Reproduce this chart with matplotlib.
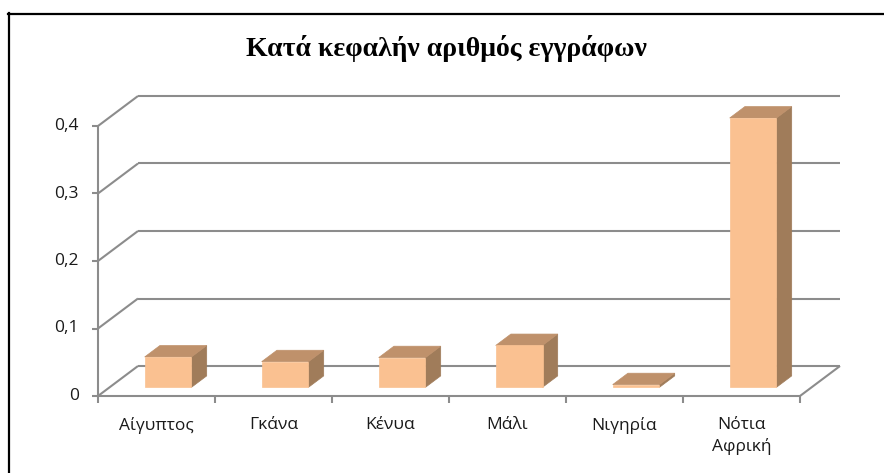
import matplotlib
matplotlib.use("Agg")
import matplotlib.pyplot as plt
from matplotlib.patches import Polygon
from matplotlib.lines import Line2D

# data
countries = ["Αίγυπτος", "Γκάνα", "Κένυα", "Μάλι", "Νιγηρία", "Νότια\nΑφρική"]
values = [0.045, 0.038, 0.044, 0.062, 0.004, 0.399]
yticks = [0, 0.1, 0.2, 0.3, 0.4]
ytick_labels = ["0", "0,1", "0,2", "0,3", "0,4"]
title = "Κατά κεφαλήν αριθμός εγγράφων"

W, H = 884, 473
fig = plt.figure(figsize=(W / 100, H / 100), dpi=100)
fig.patch.set_facecolor("white")

# front plane of the plot: x 98..800 px, y(0)=396 px, y(0.4)=126 px from top
ax = fig.add_axes([98 / W, (H - 396) / H, (800 - 98) / W, (396 - 126) / H])
n = len(countries)
ax.set_xlim(0, n)
ax.set_ylim(0, 0.4)
ax.axis("off")

# depth vector (40 px right, 30 px up) in data units
px_x = (800 - 98) / n
px_y = (396 - 126) / 0.4
DX, DY = 40 / px_x, 30 / px_y

grid_c = "#8c8c8c"
lw = 1.5

def line(xs, ys, **kw):
    ax.add_line(Line2D(xs, ys, color=grid_c, lw=lw, clip_on=False,
                       solid_capstyle="butt", **kw))

# gridlines: back wall + left wall diagonal
for v in yticks:
    line([DX, n + DX], [v + DY, v + DY])
    line([0, DX], [v, v + DY])
# floor front edge and right edge
line([0, n], [0, 0])
line([n, n + DX], [0, DY])
# value axis
line([0, 0], [0, 0.4])
for v, lab in zip(yticks, ytick_labels):
    line([-6 / px_x, 0], [v, v])
    ax.text(-19 / px_x, v, lab, ha="right", va="center", fontsize=12.5,
            family="Open Sans", color="#1a1a1a")
# category ticks and labels
for i in range(n + 1):
    line([i, i], [0, -7 / px_y])
for i, c in enumerate(countries):
    ax.text(i + 0.5, -21 / px_y, c, ha="center", va="top", fontsize=12.5,
            family="Open Sans", color="#1a1a1a", linespacing=1.35)

# 3d bars
front_c, top_c, side_c = "#fac191", "#bf916b", "#a07c5a"
d0, d1 = 0.29, 0.67
for i, v in enumerate(values):
    x0, x1 = i + 0.3 + d0 * DX, i + 0.7 + d0 * DX
    y0, y1 = d0 * DY, v + d0 * DY
    ex, ey = (d1 - d0) * DX, (d1 - d0) * DY
    side = [(x1, y0), (x1 + ex, y0 + ey), (x1 + ex, y1 + ey), (x1, y1)]
    top = [(x0, y1), (x1, y1), (x1 + ex, y1 + ey), (x0 + ex, y1 + ey)]
    front = [(x0, y0), (x1, y0), (x1, y1), (x0, y1)]
    for pts, c in [(side, side_c), (top, top_c), (front, front_c)]:
        ax.add_patch(Polygon(pts, closed=True, facecolor=c, edgecolor=c,
                             lw=0.5, clip_on=False, zorder=3))

fig.text(446 / W, 1 - 49 / H, title, ha="center", va="center",
         fontsize=20, fontweight="bold", family="Liberation Serif")

# chart border (only top and left visible in the crop)
fig.add_artist(Line2D([8.5 / W, 8.5 / W], [0, 1 - 13.5 / H], color="black",
                      lw=1.6, transform=fig.transFigure))
fig.add_artist(Line2D([7.7 / W, 1], [1 - 13.8 / H, 1 - 13.8 / H],
                      color="black", lw=1.6, transform=fig.transFigure))

fig.savefig("out.png", dpi=100)
